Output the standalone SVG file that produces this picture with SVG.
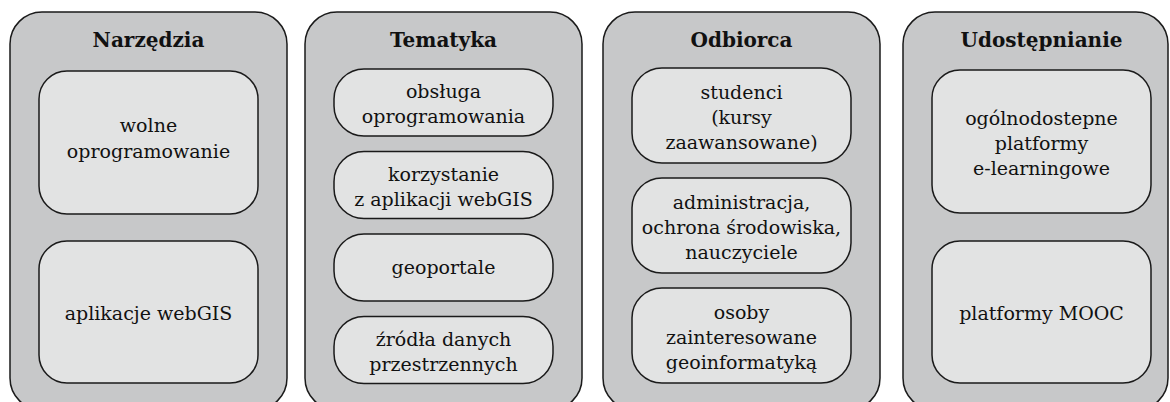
<svg xmlns="http://www.w3.org/2000/svg" width="1170" height="402" viewBox="0 0 1170 402">
<style>
.outer{fill:#c7c8c9;stroke:#1a1a1a;stroke-width:1.5}
.inner{fill:#e2e3e3;stroke:#1a1a1a;stroke-width:1.5}
.title{font-family:"DejaVu Serif","Liberation Serif",serif;font-weight:bold;font-size:20px;fill:#111;text-anchor:middle}
.t{font-family:"DejaVu Serif","Liberation Serif",serif;font-size:19px;fill:#111;text-anchor:middle}
</style>
<rect width="1170" height="402" fill="#fff"/>
<g id="narzedzia">
<rect class="outer" x="10" y="12" width="277" height="398" rx="32"/>
<text class="title" x="148.5" y="47">Narzędzia</text>
<g id="n1"><rect class="inner" x="39" y="71" width="219" height="143" rx="28"/>
<text class="t" x="148.5" y="132">wolne</text><text class="t" x="148.5" y="158">oprogramowanie</text></g>
<g id="n2"><rect class="inner" x="39" y="241" width="219" height="142" rx="28"/>
<text class="t" x="148.5" y="320">aplikacje webGIS</text></g>
</g>
<g id="tematyka">
<rect class="outer" x="305" y="12" width="277" height="398" rx="32"/>
<text class="title" x="443.5" y="47">Tematyka</text>
<g id="t1"><rect class="inner" x="334" y="69" width="219" height="67" rx="30"/>
<text class="t" x="443.5" y="98">obsługa</text><text class="t" x="443.5" y="123">oprogramowania</text></g>
<g id="t2"><rect class="inner" x="334" y="151.5" width="219" height="67" rx="30"/>
<text class="t" x="443.5" y="180.5">korzystanie</text><text class="t" x="443.5" y="205.5">z aplikacji webGIS</text></g>
<g id="t3"><rect class="inner" x="334" y="234" width="219" height="67" rx="30"/>
<text class="t" x="443.5" y="274">geoportale</text></g>
<g id="t4"><rect class="inner" x="334" y="316.5" width="219" height="67" rx="30"/>
<text class="t" x="443.5" y="345.5">źródła danych</text><text class="t" x="443.5" y="370.5">przestrzennych</text></g>
</g>
<g id="odbiorca">
<rect class="outer" x="603" y="12" width="277" height="398" rx="32"/>
<text class="title" x="741.5" y="47">Odbiorca</text>
<g id="o1"><rect class="inner" x="632" y="68" width="219" height="95" rx="30"/>
<text class="t" x="741.5" y="99">studenci</text><text class="t" x="741.5" y="124">(kursy</text><text class="t" x="741.5" y="149">zaawansowane)</text></g>
<g id="o2"><rect class="inner" x="632" y="178" width="219" height="95" rx="30"/>
<text class="t" x="741.5" y="209">administracja,</text><text class="t" x="741.5" y="234">ochrona środowiska,</text><text class="t" x="741.5" y="259">nauczyciele</text></g>
<g id="o3"><rect class="inner" x="632" y="288" width="219" height="95" rx="30"/>
<text class="t" x="741.5" y="319">osoby</text><text class="t" x="741.5" y="344">zainteresowane</text><text class="t" x="741.5" y="369">geoinformatyką</text></g>
</g>
<g id="udostepnianie">
<rect class="outer" x="903" y="12" width="265" height="398" rx="32"/>
<text class="title" x="1041.5" y="47">Udostępnianie</text>
<g id="u1"><rect class="inner" x="932" y="70" width="219" height="143" rx="28"/>
<text class="t" x="1041.5" y="125">ogólnodostepne</text><text class="t" x="1041.5" y="150">platformy</text><text class="t" x="1041.5" y="175">e-learningowe</text></g>
<g id="u2"><rect class="inner" x="932" y="241" width="219" height="142" rx="28"/>
<text class="t" x="1041.5" y="320">platformy MOOC</text></g>
</g>
<g id="connectors"/>
</svg>
